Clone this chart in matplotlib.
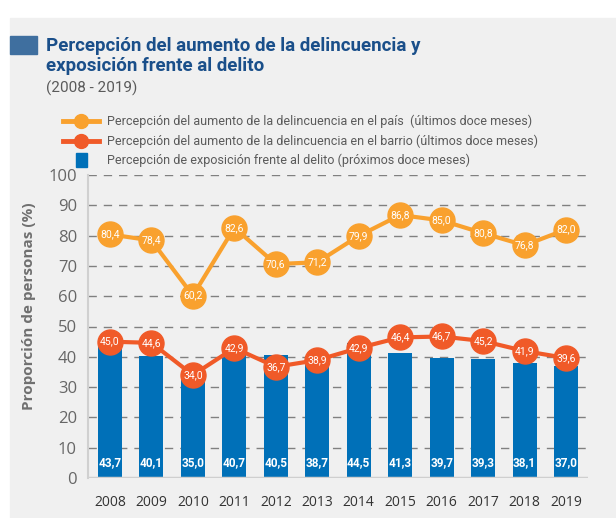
import matplotlib
matplotlib.use("Agg")
from matplotlib import pyplot as plt
from matplotlib.patches import Rectangle
from matplotlib.lines import Line2D

years = ["2008", "2009", "2010", "2011", "2012", "2013", "2014", "2015", "2016", "2017", "2018", "2019"]
pais = [80.4, 78.4, 60.2, 82.6, 70.6, 71.2, 79.9, 86.8, 85.0, 80.8, 76.8, 82.0]
barrio = [45.0, 44.6, 34.0, 42.9, 36.7, 38.9, 42.9, 46.4, 46.7, 45.2, 41.9, 39.6]
exposicion = [43.7, 40.1, 35.0, 40.7, 40.5, 38.7, 44.5, 41.3, 39.7, 39.3, 38.1, 37.0]
yticks = [0, 10, 20, 30, 40, 50, 60, 70, 80, 90, 100]

ORANGE = "#f9a12e"
RED = "#f05a28"
BLUE = "#0070b8"
GRAY = "#5a5a5a"
BG = "#f0f0f0"
NARROW = ["Roboto", "DejaVu Sans"]
OPEN = ["Open Sans", "DejaVu Sans"]

def fmt(v):
    return f"{v:.1f}".replace(".", ",")

fig = plt.figure(figsize=(6.16, 5.18), dpi=100)
fig.patch.set_facecolor("white")
fig.patches.append(Rectangle((10 / 616, 0), 606 / 616, 1 - 18 / 518,
                             transform=fig.transFigure, color=BG, zorder=-10))
fig.patches.append(Rectangle((10 / 616, 1 - 54 / 518), 27 / 616, 18 / 518,
                             transform=fig.transFigure, color="#3f6f9f", zorder=1))

# titles
fig.text(46 / 616, 1 - 46 / 518, "Percepción del aumento de la delincuencia y",
         family=NARROW, weight="bold", fontsize=13.5, color="#1a4f8a", va="center")
fig.text(46 / 616, 1 - 66 / 518, "exposición frente al delito",
         family=NARROW, weight="bold", fontsize=13.5, color="#1a4f8a", va="center")
fig.text(46 / 616, 1 - 88 / 518, "(2008 - 2019)",
         family=NARROW, fontsize=11, color=GRAY, va="center")

# legend
leg_items = [
    ("line", ORANGE, "Percepción del aumento de la delincuencia en el país  (últimos doce meses)", 121),
    ("line", RED, "Percepción del aumento de la delincuencia en el barrio (últimos doce meses)", 141),
    ("box", BLUE, "Percepción de exposición frente al delito (próximos doce meses)", 160),
]
for kind, col, label, ypx in leg_items:
    y = 1 - ypx / 518
    if kind == "line":
        fig.lines.append(Line2D([63 / 616, 99 / 616], [y, y], transform=fig.transFigure,
                                color=col, lw=3.5))
        fig.lines.append(Line2D([81 / 616], [y], transform=fig.transFigure,
                                color=col, marker="o", markersize=10, lw=0))
    else:
        fig.patches.append(Rectangle((76 / 616, y - 7 / 518), 11 / 616, 14 / 518,
                                     transform=fig.transFigure, color=col))
    fig.text(107 / 616, y, label, family=NARROW, fontsize=9, color=GRAY, va="center")

ax = fig.add_axes([88 / 616, 40 / 518, 500 / 616, 303 / 518])
ax.set_facecolor("none")
x = list(range(len(years)))

ax.bar(x, exposicion, width=0.58, color=BLUE, zorder=2)
for xi, v in zip(x, exposicion):
    ax.text(xi, 5, fmt(v), ha="center", va="center", color="white",
            family=NARROW, weight="bold", fontsize=8.5, zorder=5)

for vals, col in [(pais, ORANGE), (barrio, RED)]:
    ax.plot(x, vals, color=col, lw=3, marker="o", markersize=18, zorder=3)
    for xi, v in zip(x, vals):
        ax.text(xi, v, fmt(v), ha="center", va="center", color="white",
                family=NARROW, fontsize=7.5, zorder=5)

ax.set_xlim(-0.53, 11.53)
ax.set_ylim(0, 100)
ax.set_yticks(yticks)
ax.set_xticks(x)
ax.set_xticklabels(years, family=OPEN)
ax.set_yticklabels(yticks, family=OPEN)
for yv in yticks[1:]:
    ax.axhline(yv, color="#808080", lw=1, ls=(0, (6, 5)), zorder=1)
ax.axhline(0, color="#cfcfcf", lw=2.5, zorder=2)

for s in ["top", "right", "bottom"]:
    ax.spines[s].set_visible(False)
ax.spines["left"].set_color("#d0d0d0")
ax.spines["left"].set_linewidth(1.5)
ax.tick_params(axis="both", length=0)
ax.tick_params(axis="y", labelsize=12, labelcolor="#666666", pad=8)
ax.tick_params(axis="x", labelsize=10, labelcolor="#333333", pad=12)

fig.text(29 / 616, 1 - 306 / 518, "Proporción de personas (%)", rotation=90,
         ha="center", va="center", fontsize=11, weight="bold", color="#707070",
         family=OPEN)

fig.savefig("out.png", dpi=100, facecolor=fig.get_facecolor())
